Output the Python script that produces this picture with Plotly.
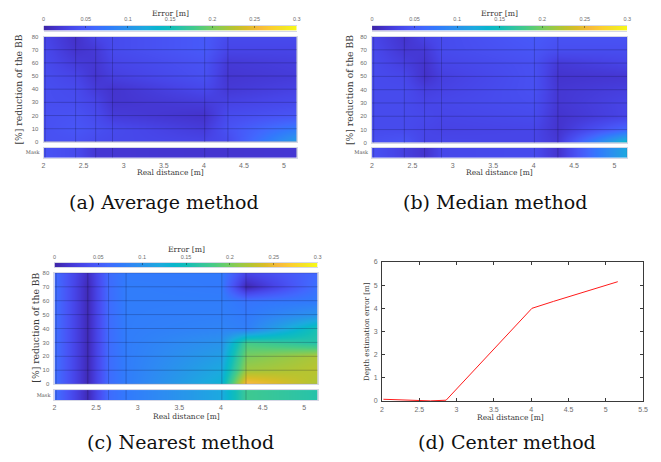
import plotly.graph_objects as go

W, H = 661, 462

# ---- data ---------------------------------------------------------------
distances = [2.02, 2.40, 2.65, 2.86, 4.01, 4.30, 5.16]   # real distance [m]
reductions = [0, 10, 20, 30, 40, 50, 60, 70, 80]          # BB reduction [%]

err_min, err_max = 0.0, 0.3
err_ticks = [0, 0.05, 0.1, 0.15, 0.2, 0.25, 0.3]
err_ticktext = ["0", "0.05", "0.1", "0.15", "0.2", "0.25", "0.3"]
dist_ticks = [2, 2.5, 3, 3.5, 4, 4.5, 5]
dist_ticktext = ["2", "2.5", "3", "3.5", "4", "4.5", "5"]
center_xticks = [2, 2.5, 3, 3.5, 4, 4.5, 5, 5.5]
center_xticktext = ["2", "2.5", "3", "3.5", "4", "4.5", "5", "5.5"]
center_yticks = [0, 1, 2, 3, 4, 5, 6]

# error [m]; one row per BB reduction (0 % ... 80 %), one column per distance
average_err = [
    [0.040, 0.040, 0.035, 0.033, 0.030, 0.035, 0.110],
    [0.040, 0.045, 0.040, 0.035, 0.022, 0.042, 0.075],
    [0.040, 0.042, 0.035, 0.022, 0.014, 0.036, 0.045],
    [0.038, 0.037, 0.030, 0.016, 0.022, 0.028, 0.035],
    [0.038, 0.035, 0.022, 0.015, 0.033, 0.020, 0.028],
    [0.037, 0.030, 0.016, 0.025, 0.040, 0.017, 0.022],
    [0.035, 0.022, 0.018, 0.030, 0.042, 0.020, 0.025],
    [0.033, 0.015, 0.020, 0.035, 0.048, 0.030, 0.030],
    [0.030, 0.012, 0.030, 0.035, 0.048, 0.035, 0.035],
]
average_mask = [0.042, 0.035, 0.018, 0.018, 0.016, 0.016, 0.018]

median_err = [
    [0.040, 0.045, 0.030, 0.032, 0.030, 0.020, 0.145],
    [0.035, 0.035, 0.030, 0.028, 0.030, 0.015, 0.060],
    [0.035, 0.035, 0.033, 0.030, 0.035, 0.015, 0.030],
    [0.035, 0.035, 0.030, 0.032, 0.038, 0.018, 0.030],
    [0.035, 0.035, 0.025, 0.028, 0.040, 0.018, 0.025],
    [0.035, 0.032, 0.013, 0.025, 0.040, 0.015, 0.018],
    [0.035, 0.025, 0.015, 0.030, 0.040, 0.020, 0.030],
    [0.033, 0.018, 0.020, 0.035, 0.045, 0.038, 0.038],
    [0.030, 0.015, 0.030, 0.035, 0.048, 0.042, 0.042],
]
median_mask = [0.040, 0.025, 0.015, 0.032, 0.035, 0.015, 0.120]

nearest_err = [
    [0.063, 0.005, 0.063, 0.078, 0.130, 0.260, 0.220],
    [0.063, 0.005, 0.063, 0.078, 0.120, 0.215, 0.225],
    [0.063, 0.005, 0.063, 0.078, 0.110, 0.200, 0.220],
    [0.063, 0.005, 0.063, 0.078, 0.100, 0.180, 0.160],
    [0.063, 0.005, 0.063, 0.078, 0.085, 0.080, 0.155],
    [0.063, 0.005, 0.063, 0.078, 0.080, 0.075, 0.100],
    [0.063, 0.005, 0.063, 0.078, 0.078, 0.070, 0.075],
    [0.063, 0.005, 0.063, 0.078, 0.075, 0.003, 0.068],
    [0.060, 0.010, 0.063, 0.075, 0.075, 0.030, 0.060],
]
nearest_mask = [0.063, 0.005, 0.063, 0.075, 0.120, 0.175, 0.160]

# depth estimation error [m] of the center method
center_err = [0.07, 0.02, 0.0, 0.03, 4.0, 4.3, 5.15]

# ---- styling ------------------------------------------------------------
PARULA = [
    [0.00, "rgb(62,38,168)"],
    [0.05, "rgb(68,52,206)"],
    [0.10, "rgb(71,69,232)"],
    [0.15, "rgb(72,86,247)"],
    [0.20, "rgb(66,104,254)"],
    [0.25, "rgb(50,122,252)"],
    [0.30, "rgb(46,138,243)"],
    [0.35, "rgb(38,153,232)"],
    [0.40, "rgb(28,170,223)"],
    [0.45, "rgb(9,182,206)"],
    [0.50, "rgb(18,190,185)"],
    [0.55, "rgb(48,196,162)"],
    [0.60, "rgb(70,203,136)"],
    [0.65, "rgb(108,205,105)"],
    [0.70, "rgb(148,202,74)"],
    [0.75, "rgb(185,196,48)"],
    [0.80, "rgb(219,189,40)"],
    [0.85, "rgb(247,186,61)"],
    [0.90, "rgb(252,208,48)"],
    [0.95, "rgb(245,229,38)"],
    [1.00, "rgb(249,251,21)"],
]
SERIF = "DejaVu Serif"
SANS = "Liberation Sans"
TICK_GREY = "#6e6e6e"
FRAME = "#d6d8e6"
MESH = "rgba(15,15,50,0.33)"
X_RANGE = [2.0, 5.16]


def xdom(left, right):
    return [left / W, right / W]


def ydom(top, bottom):
    return [1 - bottom / H, 1 - top / H]


def xref(n):
    return "x" if n == 1 else f"x{n}"


def yref(n):
    return "y" if n == 1 else f"y{n}"


def xkey(n):
    return "xaxis" if n == 1 else f"xaxis{n}"


def ykey(n):
    return "yaxis" if n == 1 else f"yaxis{n}"


fig = go.Figure()
axes = {}
annotations = []


def label(text, x, y, size, angle=0, color="#3a3a3a"):
    annotations.append(dict(
        text=text, x=x / W, y=1 - y / H, xref="paper", yref="paper",
        showarrow=False, xanchor="center", yanchor="middle", textangle=angle,
        font=dict(family=SERIF, size=size, color=color),
    ))


def heat_panel(base, z, mask, left, right, cb_y, heat_y, mask_y):
    hn, mn, cn = base, base + 1, base + 2
    common = dict(colorscale=PARULA, zmin=err_min, zmax=err_max,
                  zsmooth="best", showscale=False, hoverinfo="skip")

    # error surface
    fig.add_trace(go.Heatmap(x=distances, y=reductions, z=z,
                             xaxis=xref(hn), yaxis=yref(hn), **common))
    # mask row
    fig.add_trace(go.Heatmap(x=distances, y=[0, 1], z=[mask, mask],
                             xaxis=xref(mn), yaxis=yref(mn), **common))
    # colour scale strip
    fig.add_trace(go.Heatmap(x=[err_min, err_max], y=[0, 1],
                             z=[[err_min, err_max], [err_min, err_max]],
                             xaxis=xref(cn), yaxis=yref(cn), **common))

    # mesh lines of the surface
    gx, gy = [], []
    for d in distances:
        gx += [d, d, None]
        gy += [reductions[0], reductions[-1], None]
    for r in reductions:
        gx += [X_RANGE[0], X_RANGE[1], None]
        gy += [r, r, None]
    fig.add_trace(go.Scatter(x=gx, y=gy, mode="lines", hoverinfo="skip",
                             line=dict(color=MESH, width=0.7), showlegend=False,
                             xaxis=xref(hn), yaxis=yref(hn)))
    mx, my = [], []
    for d in distances:
        mx += [d, d, None]
        my += [0, 1, None]
    fig.add_trace(go.Scatter(x=mx, y=my, mode="lines", hoverinfo="skip",
                             line=dict(color=MESH, width=0.7), showlegend=False,
                             xaxis=xref(mn), yaxis=yref(mn)))

    frame = dict(showline=True, linecolor=FRAME, linewidth=1, mirror=True,
                 showgrid=False, zeroline=False)
    axes[xkey(hn)] = dict(domain=xdom(left, right), range=X_RANGE,
                          anchor=yref(hn), showticklabels=False, ticks="", **frame)
    axes[ykey(hn)] = dict(domain=ydom(*heat_y), range=[0, 80], anchor=xref(hn),
                          tickvals=reductions, ticks="", ticklabelstandoff=3,
                          tickfont=dict(family=SANS, size=6, color=TICK_GREY), **frame)
    axes[xkey(mn)] = dict(domain=xdom(left, right), range=X_RANGE, anchor=yref(mn),
                          tickvals=dist_ticks, ticktext=dist_ticktext, ticks="",
                          ticklabelstandoff=1,
                          tickfont=dict(family=SANS, size=7, color=TICK_GREY), **frame)
    axes[ykey(mn)] = dict(domain=ydom(*mask_y), range=[0, 1], anchor=xref(mn),
                          tickvals=[0.5], ticktext=["Mask"], ticks="",
                          ticklabelstandoff=2,
                          tickfont=dict(family=SERIF, size=5, color="#555555"), **frame)
    axes[xkey(cn)] = dict(domain=xdom(left, right), range=[err_min, err_max],
                          anchor=yref(cn), side="top", tickvals=err_ticks,
                          ticktext=err_ticktext, ticks="inside", ticklen=2,
                          tickcolor="rgba(0,0,0,0.35)", ticklabelstandoff=1,
                          tickfont=dict(family=SANS, size=5.5, color=TICK_GREY),
                          showline=True, linecolor=FRAME, mirror=True,
                          showgrid=False, zeroline=False)
    axes[ykey(cn)] = dict(domain=ydom(*cb_y), range=[0, 1], anchor=xref(cn),
                          showticklabels=False, ticks="", showgrid=False,
                          zeroline=False)


heat_panel(1, average_err, average_mask, 42, 298, (22, 27), (33, 140), (146, 156))
heat_panel(4, median_err, median_mask, 374, 632, (22, 27), (33, 141), (146, 156))
heat_panel(7, nearest_err, nearest_mask, 53, 319, (263, 267), (273, 386), (392, 402))

# center method line plot
fig.add_trace(go.Scatter(x=distances, y=center_err, mode="lines",
                         line=dict(color="#ff1a1a", width=1), hoverinfo="skip",
                         showlegend=False, xaxis="x10", yaxis="y10"))
box = dict(showline=True, linecolor="#3a3a3a", linewidth=0.8, mirror="ticks",
           ticks="inside", ticklen=3, tickcolor="#3a3a3a", showgrid=False,
           zeroline=False)
axes["xaxis10"] = dict(domain=xdom(384, 648), range=[2, 5.5], anchor="y10",
                       tickvals=center_xticks, ticktext=center_xticktext,
                       ticklabelstandoff=2,
                       tickfont=dict(family=SANS, size=7, color=TICK_GREY), **box)
axes["yaxis10"] = dict(domain=ydom(262, 403), range=[0, 6], anchor="x10",
                       tickvals=center_yticks, ticklabelstandoff=2,
                       tickfont=dict(family=SANS, size=7, color=TICK_GREY), **box)

# axis titles and captions
label("Error [m]", 170, 10, 7.7)
label("[%] reduction of the BB", 17, 87, 9.2, -90)
label("Real distance [m]", 170, 171, 7.5)
label("(a) Average method", 164, 201, 19, color="#111111")

label("Error [m]", 503, 10, 7.7)
label("[%] reduction of the BB", 351, 87, 9.2, -90)
label("Real distance [m]", 503, 171, 7.5)
label("(b) Median method", 498, 201, 19, color="#111111")

label("Error [m]", 186, 249, 7.7)
label("[%] reduction of the BB", 33, 329, 9.2, -90)
label("Real distance [m]", 186, 419, 7.5)
label("(c) Nearest method", 180, 445, 19, color="#111111")

label("Depth estimation error [m]", 369, 333, 7.2, -90)
label("Real distance [m]", 514, 420, 7.5)
label("(d) Center method", 510, 445, 19, color="#111111")

fig.update_layout(
    width=W, height=H, margin=dict(l=0, r=0, t=0, b=0),
    paper_bgcolor="white", plot_bgcolor="white", showlegend=False,
    annotations=annotations, **axes,
)

fig.write_html("out.html")
